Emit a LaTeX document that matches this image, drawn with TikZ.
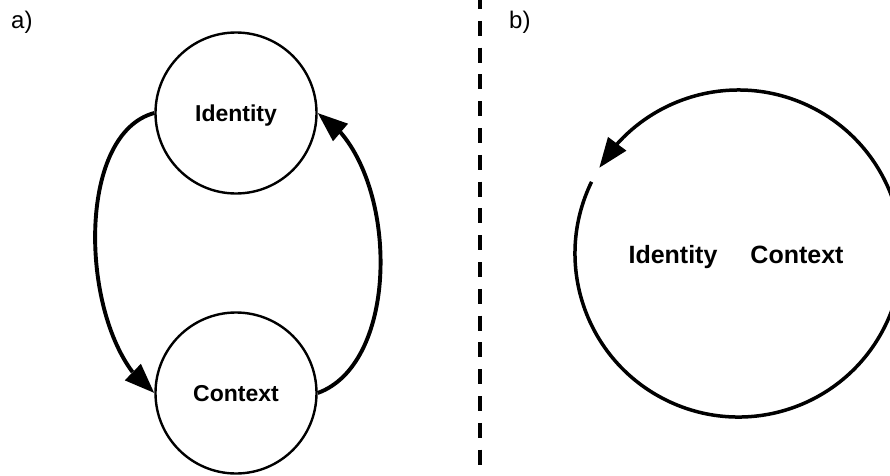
\documentclass[tikz,border=0pt]{standalone}
\usepackage{fontspec}
\setmainfont{Liberation Sans}
\usepackage{tikz}
\usetikzlibrary{positioning,arrows.meta,bending}
\tikzstyle{arrow} = [line width=3.9pt,->,>={Triangle[length=30pt,width=22pt]}]

\begin{document}
\begin{tikzpicture}[x=1pt,y=1pt,node distance=280pt]
	\tikzstyle{cyclenode} = [circle, draw=black, line width=2.4pt, minimum size=161pt, inner sep=0pt, font=\fontsize{23}{27}\selectfont\bfseries, text depth=0pt];
	\tikzstyle{plaintext} = [font=\fontsize{25}{30}\selectfont\bfseries, inner sep=0pt];
	\tikzstyle{panel} = [font=\fontsize{24}{28}\selectfont, inner sep=0pt, anchor=base west];
	\useasboundingbox (0,0) rectangle (890,475);
	% a)
	\node (labela) [panel] at (11,446) {a)};
	\node (identity) [cyclenode] at (236,362) {Identity};
	\node (context) [cyclenode, below of=identity] {Context};
	\draw [arrow] (identity.west) to[out=195,in=147,looseness=0.8] (context.west);
	\draw [arrow] (context.east) to[out=20,in=-30,looseness=0.85] (identity.east);
	% separator
	\coordinate (septop) at (480,475);
	\coordinate (sepbottom) at (480,0);
	\draw [line width=3.5pt, dash pattern=on 15pt off 11.8pt, dash phase=6pt] (septop) -- (sepbottom);
	% b)
	\node (labelb) [panel] at (509,446) {b)};
	\coordinate (cyclecentre) at (738.5,221.5);
	\node (identityb) [plaintext, anchor=base] at (673,212) {Identity};
	\node (contextb) [plaintext, anchor=base] at (797,212) {Context};
	\draw [arrow, line width=3.5pt] ([shift={(154:163.5pt)}]cyclecentre) arc[start angle=154, end angle=508.4, radius=163.5pt];
\end{tikzpicture}
\end{document}
